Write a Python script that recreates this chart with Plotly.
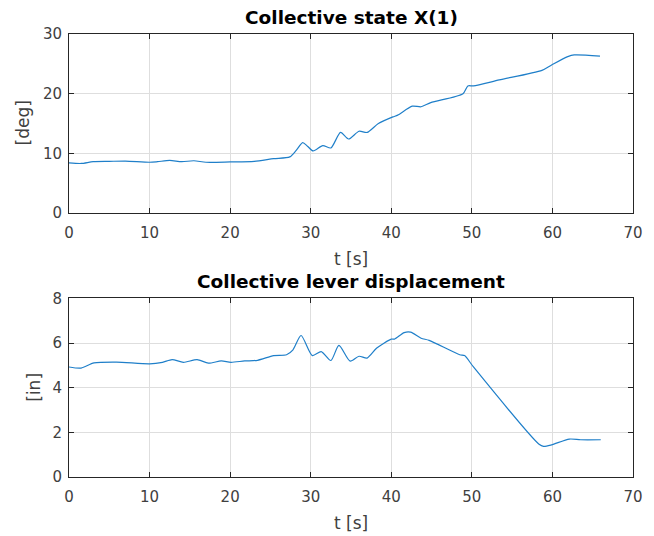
import plotly.graph_objects as go

# Collective state X(1) [deg]
t_state = [0, 1.5, 3, 5, 7, 10, 11, 12.5, 14, 15.5, 17, 20, 23, 25.4, 27.4, 28.2, 29.0,
           29.6, 30.3, 31.5, 32.5, 33.7, 34.7, 36.0, 37.0, 38.4, 40.2, 40.8, 42.6, 43.7,
           44.9, 48.9, 49.5, 50.2, 53.4, 58.7, 59.9, 61.9, 62.7, 65.9]
x_state = [8.4, 8.3, 8.6, 8.65, 8.7, 8.5, 8.6, 8.8, 8.6, 8.75, 8.5, 8.55, 8.65, 9.1, 9.4,
           10.5, 11.8, 11.2, 10.4, 11.3, 10.9, 13.5, 12.4, 13.7, 13.5, 15.0, 16.1, 16.4,
           17.9, 17.8, 18.5, 20.0, 21.3, 21.3, 22.3, 23.9, 24.8, 26.2, 26.5, 26.3]

# Collective lever displacement [in]
t_lever = [0, 1.5, 3.1, 5.9, 10, 11.6, 12.8, 14.2, 15.9, 17.3, 18.9, 20.1, 21.8, 23.4,
           25.4, 27.0, 27.8, 28.8, 30.2, 31.3, 32.5, 33.5, 34.9, 36.0, 37.0, 38.2, 40.0,
           40.4, 41.6, 42.4, 43.7, 44.7, 48.5, 49.1, 50.2, 58.3, 58.9, 59.9, 62.1, 63.5, 66.0]
x_lever = [4.93, 4.88, 5.11, 5.15, 5.07, 5.14, 5.26, 5.14, 5.26, 5.1, 5.2, 5.14, 5.2, 5.23,
           5.44, 5.48, 5.7, 6.34, 5.44, 5.62, 5.22, 5.9, 5.19, 5.41, 5.33, 5.78, 6.18,
           6.18, 6.47, 6.49, 6.22, 6.12, 5.48, 5.44, 4.93, 1.48, 1.37, 1.44, 1.7, 1.67, 1.67]

titles = ["Collective state X(1)", "Collective lever displacement"]
ylabels = ["[deg]", "[in]"]
xlabel = "t [s]"

LINE = "#1f7fc9"
AX = "#262626"
GRID = "#dedede"
FONT = "DejaVu Sans"

fig = go.Figure()
fig.add_trace(go.Scatter(x=t_state, y=x_state, mode="lines", line=dict(color=LINE, width=1.2, shape="spline", smoothing=0.7),
                         xaxis="x", yaxis="y", showlegend=False))
fig.add_trace(go.Scatter(x=t_lever, y=x_lever, mode="lines", line=dict(color=LINE, width=1.2, shape="spline", smoothing=0.7),
                         xaxis="x2", yaxis="y2", showlegend=False))

axcommon = dict(showline=True, linecolor=AX, linewidth=1, mirror="ticks", ticks="inside",
                ticklen=5, tickcolor=AX, showgrid=True, gridcolor=GRID, gridwidth=1,
                zeroline=False, tickfont=dict(family=FONT, size=15, color="#404040"))

top_dom = [0.596, 1.0]
bot_dom = [0.0, 0.403]

fig.update_layout(
    width=654, height=536,
    margin=dict(l=69, r=11, t=34, b=59),
    paper_bgcolor="white", plot_bgcolor="white",
    xaxis=dict(domain=[0, 1], range=[0, 70], dtick=10, anchor="y", ticklabelstandoff=6, **axcommon),
    yaxis=dict(domain=top_dom, range=[0, 30], dtick=10, anchor="x", ticklabelstandoff=3, **axcommon),
    xaxis2=dict(domain=[0, 1], range=[0, 70], dtick=10, anchor="y2", ticklabelstandoff=6, **axcommon),
    yaxis2=dict(domain=bot_dom, range=[0, 8], dtick=2, anchor="x2", ticklabelstandoff=3, **axcommon),
)

ann = []
for dom, title in zip([top_dom, bot_dom], titles):
    ann.append(dict(text="<b>" + title + "</b>", x=0.5, xref="paper", y=dom[1], yref="paper",
                    xanchor="center", yanchor="middle", yshift=17, showarrow=False,
                    font=dict(family=FONT, size=18.5, color="black")))
    ann.append(dict(text=xlabel, x=0.5, xref="paper", y=dom[0], yref="paper",
                    xanchor="center", yanchor="middle", yshift=-46, showarrow=False,
                    font=dict(family=FONT, size=17, color="#404040")))
for dom, lab, xs in zip([top_dom, bot_dom], ylabels, [-46, -35]):
    ann.append(dict(text=lab, x=0, xref="paper", y=(dom[0] + dom[1]) / 2, yref="paper",
                    xanchor="center", yanchor="middle", xshift=xs, textangle=-90, showarrow=False,
                    font=dict(family=FONT, size=17, color="#404040")))
fig.update_layout(annotations=ann)

fig.write_html("out.html")
